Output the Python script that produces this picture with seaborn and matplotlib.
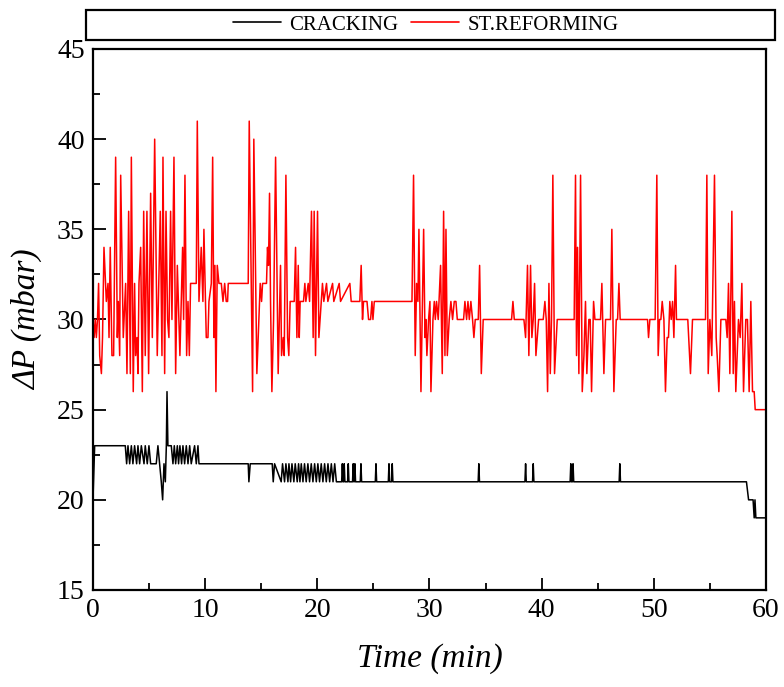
import numpy as np
import pandas as pd
import seaborn as sns
import matplotlib
matplotlib.use("Agg")
import matplotlib.pyplot as plt
from matplotlib.patches import Rectangle
from matplotlib.lines import Line2D
from matplotlib.ticker import MultipleLocator

# ---- data (time in min, dP in mbar) ----
reforming_t = [
    0.0, 0.1, 0.2, 0.3, 0.4, 0.5, 0.6, 0.75, 0.85, 0.98, 1.19, 1.34, 1.43, 1.54, 1.69, 1.84,
    2.02, 2.17, 2.26, 2.38, 2.47, 2.70, 2.91, 3.03, 3.18, 3.33, 3.42, 3.59, 3.71, 3.80, 3.92,
    4.01, 4.10, 4.25, 4.40, 4.52, 4.66, 4.81, 4.96, 5.14, 5.29, 5.50, 5.73, 6.00, 6.15, 6.24,
    6.39, 6.51, 6.65, 6.77, 6.92, 7.04, 7.22, 7.37, 7.52, 7.75, 7.99, 8.08, 8.20, 8.35, 8.47,
    8.59, 8.70, 9.21, 9.30, 9.45, 9.65, 9.80, 9.89, 10.10, 10.25, 10.34, 10.55, 10.67, 10.78,
    10.87, 10.96, 11.08, 11.23, 11.44, 11.59, 11.74, 11.88, 12.00, 12.06, 13.84, 13.93, 14.23,
    14.34, 14.61, 14.91, 15.03, 15.12, 15.47, 15.56, 15.65, 15.74, 15.83, 15.95, 16.10, 16.28,
    16.51, 16.72, 16.81, 16.96, 17.05, 17.20, 17.35, 17.46, 17.58, 17.94, 18.06, 18.18, 18.30,
    18.39, 18.47, 18.77, 18.89, 18.98, 19.19, 19.31, 19.48, 19.63, 19.72, 19.84, 20.02, 20.14,
    20.35, 20.46, 20.58, 20.82, 20.94, 21.36, 21.47, 21.95, 22.07, 22.90, 23.02, 23.79, 23.91,
    24.03, 24.12, 24.43, 24.57, 24.75, 24.87, 24.96, 25.08, 28.44, 28.58, 28.73, 28.85, 28.97,
    29.06, 29.24, 29.48, 29.60, 29.68, 29.77, 29.92, 30.04, 30.13, 30.31, 30.43, 30.52, 30.63,
    30.78, 30.99, 31.14, 31.26, 31.38, 31.47, 31.59, 31.76, 31.91, 32.06, 32.21, 32.36, 32.48,
    33.04, 33.16, 33.31, 33.43, 33.55, 33.69, 33.84, 33.96, 34.08, 34.35, 34.47, 34.62, 34.79,
    37.32, 37.44, 37.56, 38.42, 38.57, 38.74, 38.86, 39.01, 39.13, 39.25, 39.37, 39.49, 39.73,
    40.14, 40.29, 40.41, 40.53, 40.65, 40.77, 40.88, 41.00, 41.15, 41.39, 42.90, 43.02, 43.11,
    43.20, 43.32, 43.47, 43.62, 43.77, 43.91, 44.03, 44.21, 44.33, 44.45, 44.63, 44.75, 45.25,
    45.37, 45.55, 45.70, 46.14, 46.26, 46.44, 46.65, 46.77, 46.89, 47.00, 49.44, 49.53, 49.65,
    50.12, 50.27, 50.39, 50.51, 50.63, 50.75, 50.90, 51.04, 51.19, 51.31, 51.43, 51.55, 51.67,
    51.79, 51.94, 52.02, 53.03, 53.27, 53.45, 54.61, 54.73, 54.85, 55.00, 55.17, 55.41, 55.56,
    55.65, 55.80, 55.98, 56.42, 56.54, 56.66, 56.78, 56.96, 57.08, 57.19, 57.31, 57.55, 57.70,
    57.85, 58.00, 58.20, 58.35, 58.50, 58.65, 58.80, 58.95, 59.04, 60.0,
]
reforming_p = [
    30, 29, 30, 29, 30, 32, 28, 27, 29, 34, 31, 32, 29, 34, 28, 28,
    39, 29, 31, 28, 38, 29, 32, 27, 36, 27, 39, 26, 32, 28, 29,
    27, 32, 34, 26, 36, 28, 36, 27, 37, 29, 40, 28, 36, 28, 39,
    27, 36, 30, 29, 36, 30, 39, 27, 33, 28, 34, 30, 38, 28, 31,
    28, 32, 32, 41, 31, 34, 31, 35, 29, 29, 31, 32, 39, 29,
    33, 26, 33, 32, 32, 31, 32, 31, 31, 32, 32, 41, 26,
    40, 27, 32, 31, 32, 32, 34, 33, 37, 31, 26, 30, 39,
    27, 33, 28, 29, 28, 38, 29, 28, 31, 31, 34, 29, 33,
    29, 31, 31, 32, 31, 32, 31, 36, 29, 36, 28, 36, 29,
    31, 32, 31, 32, 31, 32, 31, 32, 31, 32, 31, 31, 33,
    30, 31, 31, 30, 30, 31, 30, 31, 31, 38, 28, 32, 31,
    35, 26, 35, 29, 30, 28, 30, 31, 26, 30, 31, 30, 31,
    30, 33, 27, 36, 28, 35, 28, 30, 31, 30, 31, 31, 30,
    30, 31, 30, 31, 30, 31, 30, 29, 30, 30, 33, 27, 30,
    30, 31, 30, 30, 29, 33, 28, 33, 29, 30, 32, 28, 30,
    30, 31, 30, 26, 32, 27, 30, 38, 27, 30, 30, 38, 28,
    34, 27, 38, 26, 28, 31, 27, 30, 30, 26, 31, 30, 30,
    32, 27, 30, 30, 35, 26, 30, 30, 32, 30, 30, 29, 30,
    30, 38, 28, 30, 30, 31, 30, 26, 29, 29, 31, 30, 31,
    29, 33, 30, 30, 27, 30, 30, 38, 27, 30, 28, 38, 29,
    28, 26, 30, 30, 29, 32, 27, 36, 27, 31, 26, 30, 29,
    32, 26, 30, 30, 26, 31, 26, 26, 25, 25,
]

cracking_t = [
    0.0, 0.15, 2.88, 3.00, 3.12, 3.27, 3.42, 3.56, 3.71, 3.89, 4.01, 4.16, 4.31, 4.55, 4.66,
    4.84, 4.99, 5.14, 5.64, 5.79, 5.94, 6.09, 6.21, 6.33, 6.45, 6.54, 6.60, 6.68, 6.98, 7.13,
    7.25, 7.37, 7.52, 7.63, 7.75, 7.90, 8.02, 8.17, 8.32, 8.47, 8.62, 8.76, 9.06, 9.21, 9.36,
    9.45, 13.84, 13.90, 14.02, 15.98, 16.07, 16.19, 16.78, 16.90, 17.08, 17.20, 17.38, 17.47,
    17.62, 17.74, 17.91, 18.03, 18.21, 18.33, 18.45, 18.57, 18.72, 18.86, 19.01, 19.16, 19.31,
    19.46, 19.61, 19.76, 19.91, 20.05, 20.20, 20.35, 20.50, 20.65, 20.80, 20.95, 21.10, 21.25,
    21.40, 21.55, 21.70, 22.17, 22.23, 22.29, 22.34, 22.40, 22.46, 22.70, 22.76, 22.82, 23.14,
    23.20, 23.26, 23.29, 23.35, 23.41, 23.83, 23.89, 23.95, 25.17, 25.23, 25.29, 26.33, 26.39,
    26.45, 26.62, 26.68, 26.74, 34.34, 34.40, 34.46, 38.51, 38.57, 38.63, 39.19, 39.25, 39.31,
    42.54, 42.60, 42.66, 42.74, 42.80, 42.86, 46.91, 46.97, 47.03, 58.26, 58.45, 58.85, 58.95,
    59.02, 59.10, 60.0,
]
cracking_p = [
    20, 23, 23, 22, 23, 22, 23, 22, 23, 22, 23, 22, 23, 22, 23,
    22, 23, 22, 22, 23, 22, 21, 20, 22, 21, 23, 26, 23, 23, 22,
    23, 22, 23, 22, 23, 22, 23, 22, 23, 22, 23, 22, 23, 22, 23,
    22, 22, 21, 22, 22, 21, 22, 21, 22, 21, 22, 21, 22,
    21, 22, 21, 22, 21, 22, 21, 22, 21, 22, 21, 22, 21,
    22, 21, 22, 21, 22, 21, 22, 21, 22, 21, 22, 21, 22,
    21, 22, 21, 21, 22, 21, 21, 22, 21, 21, 22, 21, 21,
    22, 21, 21, 22, 21, 21, 22, 21, 21, 22, 21, 21, 22,
    21, 21, 22, 21, 21, 22, 21, 21, 22, 21, 21, 22, 21,
    21, 22, 21, 21, 22, 21, 21, 22, 21, 21, 20, 20, 19,
    20, 19, 19,
]

series_names = ["CRACKING", "ST.REFORMING"]
series_colors = ["black", "red"]
x_ticks = [0, 10, 20, 30, 40, 50, 60]
y_ticks = [15, 20, 25, 30, 35, 40, 45]

df = pd.concat([
    pd.DataFrame({"Time": cracking_t, "dP": cracking_p, "Series": series_names[0]}),
    pd.DataFrame({"Time": reforming_t, "dP": reforming_p, "Series": series_names[1]}),
], ignore_index=True)

sns.set_style("white")
plt.rcParams["font.family"] = ["Liberation Serif", "DejaVu Serif"]
plt.rcParams["text.color"] = "black"
plt.rcParams["axes.labelcolor"] = "black"
plt.rcParams["xtick.color"] = "black"
plt.rcParams["ytick.color"] = "black"

fig = plt.figure(figsize=(7.84, 6.87), dpi=100)
ax = fig.add_axes([0.1186, 0.1412, 0.8584, 0.7875])

sns.lineplot(data=df, x="Time", y="dP", hue="Series", palette=series_colors,
             hue_order=series_names, estimator=None, sort=False, linewidth=1.1,
             ax=ax, legend=False)

ax.set_xlim(0, 60)
ax.set_ylim(15, 45)
ax.set_xticks(x_ticks)
ax.set_yticks(y_ticks)
ax.xaxis.set_minor_locator(MultipleLocator(5))
ax.yaxis.set_minor_locator(MultipleLocator(2.5))
ax.tick_params(axis="both", which="major", direction="in", length=9, width=1.3,
               labelsize=20, bottom=True, left=True, top=False, right=False, pad=6,
               colors="black")
ax.tick_params(axis="both", which="minor", direction="in", length=5, width=1.3,
               bottom=True, left=True, top=False, right=False, colors="black")
for s in ax.spines.values():
    s.set_linewidth(1.6)
    s.set_color("black")

ax.set_xlabel("Time (min)", fontsize=24, fontstyle="italic", labelpad=14, color="black")
ax.set_ylabel("ΔP (mbar)", fontsize=24, fontstyle="italic", labelpad=10, color="black")

# legend box spanning the top
fig.patches.append(Rectangle((86 / 784, 1 - 40 / 687), (775 - 86) / 784, 30 / 687,
                             transform=fig.transFigure, fill=False, edgecolor="black",
                             linewidth=1.6))
handles = [Line2D([], [], color=c, linewidth=1.2) for c in series_colors]
fig.legend(handles, series_names, loc="center", bbox_to_anchor=(426 / 784, 1 - 25 / 687),
           ncol=2, frameon=False, fontsize=15, handlelength=2.3, columnspacing=0.6,
           handletextpad=0.4, borderpad=0, labelcolor="black")

fig.savefig("out.png", dpi=100)
